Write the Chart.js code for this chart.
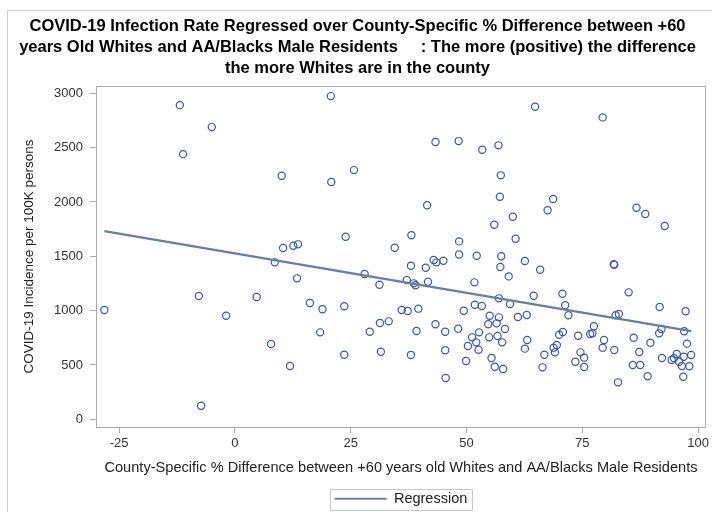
<!DOCTYPE html>
<html>
<head>
<meta charset="utf-8">
<script src="https://cdn.jsdelivr.net/npm/chart.js@4.4.1/dist/chart.umd.min.js"></script>
<style>
  html, body { margin: 0; padding: 0; background: #fff; }
  #wrap { width: 712px; height: 515px; position: relative; }
</style>
</head>
<body>
<div id="wrap"><canvas id="c" width="712" height="515"></canvas></div>
<script>
// County-specific % difference (+60 yrs old Whites vs AA/Blacks, male residents)
const pctDifference = [
  -11.9, -5.0, -11.2, -28.2, -7.8, -1.9, -7.3, 20.7, 43.3, 48.3,
  10.1, 20.8, 25.7, 41.5, 23.9, 38.1, 10.4, 12.6, 13.6, 34.5,
  48.4, 48.4, 8.6, 13.4, 4.7, 7.8, 11.9, 16.2, 18.9, 18.4,
  23.6, 23.6, 28.0, 31.2, 31.3, 33.2, 29.1, 31.5, 38.0, 41.2,
  42.9, 43.5, 45.0, 37.1, 38.6, 39.0, 41.7, 36.0, 37.3, 39.6,
  49.4, 43.3, 39.2, 45.4, 48.2, 38.0, 45.4, 49.9, 45.5, 50.3,
  64.8, 79.4, 53.4, 56.9, 57.4, 57.2, 68.7, 67.5, 60.0, 56.0,
  60.6, 86.7, 88.6, 92.8, 52.2, 57.5, 62.6, 57.3, 59.1, 65.9,
  51.7, 81.8, 81.9, 85.0, 64.5, 70.7, 51.8, 53.3, 57.0, 59.4,
  71.3, 72.0, 91.7, 97.3, 82.2, 82.9, 55.0, 57.0, 61.1, 63.0,
  54.7, 56.5, 58.3, 52.7, 51.2, 52.1, 54.9, 56.7, 57.7, 52.6,
  55.4, 56.1, 57.9, 63.1, 62.6, 66.8, 66.4, 70.0, 70.8, 68.8,
  69.5, 69.1, 74.1, 76.7, 77.2, 77.5, 74.6, 75.4, 73.5, 75.4,
  79.7, 79.4, 81.9, 82.7, 86.1, 87.3, 85.9, 87.5, 89.1, 89.7,
  91.6, 92.1, 92.2, 94.3, 94.8, 95.4, 95.9, 96.5, 96.9, 97.6,
  97.0, 98.5, 98.1, 96.8
];
// COVID-19 incidence per 100K persons, same county order
const incidence = [
  2891, 2689, 2440, 1005, 1134, 953, 125, 2974, 2551, 2560,
  2241, 2183, 2293, 1969, 1680, 1693, 1576, 1597, 1610, 1579,
  1637, 1516, 1444, 1297, 1125, 693, 490, 1070, 1012, 800,
  1040, 594, 1337, 1238, 886, 901, 806, 622, 1413, 1395,
  1466, 1444, 1459, 1281, 1251, 1233, 1266, 1006, 996, 1018,
  999, 874, 812, 806, 834, 592, 635, 536, 380, 675,
  2876, 2778, 2480, 2521, 2245, 2048, 2027, 1923, 1864, 1790,
  1662, 1947, 1889, 1778, 1505, 1500, 1456, 1401, 1315, 1376,
  1260, 1426, 1421, 1168, 1137, 1155, 1054, 1042, 1113, 1061,
  1049, 957, 1033, 994, 957, 969, 953, 938, 941, 959,
  874, 883, 831, 800, 754, 708, 754, 766, 708, 640,
  564, 484, 463, 730, 650, 594, 478, 778, 803, 659,
  684, 616, 769, 785, 791, 856, 616, 567, 530, 481,
  730, 659, 637, 340, 751, 619, 500, 500, 396, 705,
  791, 831, 564, 546, 561, 601, 530, 490, 576, 696,
  810, 592, 488, 392
];
// Fitted regression line end points
const fitX = [-28.2, 98.5];
const fitY = [1732, 812];

const xTicks = [-25, 0, 25, 50, 75, 100];
const yTicks = [0, 500, 1000, 1500, 2000, 2500, 3000];

const titleLines = [
  'COVID-19 Infection Rate Regressed over County-Specific % Difference between +60',
  'years Old Whites and AA/Blacks Male Residents     : The more (positive) the difference',
  'the more Whites are in the county'
];
const xTitle = 'County-Specific % Difference between +60 years old Whites and AA/Blacks Male Residents';
const yTitle = 'COVID-19 Incidence per 100K persons';

const FONT = "'Liberation Sans', Arial, sans-serif";
const AXIS_GRAY = '#ABABAB';
const PLOT_BOTTOM = 427;

const points = pctDifference.map((x, i) => ({ x: x, y: incidence[i] }));
const fitLine = fitX.map((x, i) => ({ x: x, y: fitY[i] }));

// Outer frame, plot frame (top/right sides) and the legend box
const framePlugin = {
  id: 'frames',
  afterLayout(chart) {
    const lg = chart.legend;
    const ca = chart.chartArea;
    if (lg) {
      lg.left = ca.left;
      lg.right = ca.right;
      lg.width = ca.right - ca.left;
    }
  },
  beforeDraw(chart) {
    const ctx = chart.ctx;
    ctx.save();
    ctx.strokeStyle = '#CFCFCF';
    ctx.lineWidth = 1;
    ctx.beginPath();
    ctx.moveTo(7.5, 512);
    ctx.lineTo(7.5, 10.5);
    ctx.lineTo(712, 10.5);
    ctx.stroke();
    ctx.restore();
  },
  afterDraw(chart) {
    const ctx = chart.ctx;
    const ca = chart.chartArea;
    ctx.save();
    ctx.strokeStyle = AXIS_GRAY;
    ctx.lineWidth = 1;
    ctx.beginPath();
    ctx.moveTo(Math.round(ca.left) + 0.5, Math.round(ca.top) + 0.5);
    ctx.lineTo(Math.round(ca.right) - 0.5, Math.round(ca.top) + 0.5);
    ctx.lineTo(Math.round(ca.right) - 0.5, Math.round(ca.bottom));
    ctx.stroke();
    const hb = chart.legend && chart.legend.legendHitBoxes && chart.legend.legendHitBoxes[0];
    if (hb) {
      ctx.strokeStyle = '#C8C8C8';
      ctx.strokeRect(Math.round(hb.left - 5) + 0.5, Math.round(hb.top - 3) + 0.5,
                     Math.round(hb.width + 9), Math.round(hb.height + 6));
    }
    ctx.restore();
  }
};

new Chart(document.getElementById('c'), {
  data: {
    datasets: [
      {
        type: 'scatter',
        label: 'Incidence',
        data: points,
        pointStyle: 'circle',
        pointRadius: 3.6,
        pointHoverRadius: 3.6,
        borderWidth: 1.2,
        borderColor: '#3656B4',
        backgroundColor: 'rgba(0,0,0,0)',
        order: 2
      },
      {
        type: 'line',
        label: 'Regression',
        data: fitLine,
        borderColor: '#667FA2',
        backgroundColor: '#667FA2',
        borderWidth: 2.2,
        pointRadius: 0,
        fill: false,
        order: 1
      }
    ]
  },
  options: {
    responsive: false,
    animation: false,
    layout: { padding: { left: 8, right: 5, top: 16, bottom: -1 } },
    plugins: {
      tooltip: { enabled: false },
      title: {
        display: true,
        text: titleLines,
        color: '#000',
        font: { family: FONT, size: 16.5, weight: 'bold', lineHeight: 21 / 16.5 },
        padding: { top: 0, bottom: 7 }
      },
      legend: {
        display: true,
        position: 'bottom',
        labels: {
          filter: (item) => item.datasetIndex === 1,
          usePointStyle: true,
          pointStyle: 'line',
          pointStyleWidth: 52,
          padding: 6,
          color: '#222',
          font: { family: FONT, size: 14.5 }
        }
      }
    },
    scales: {
      x: {
        type: 'linear',
        position: 'bottom',
        min: -30,
        max: 101.7,
        afterBuildTicks: (s) => { s.ticks = xTicks.map(v => ({ value: v })); },
        afterFit: (s) => {
          const lg = s.chart.legend;
          const lh = lg ? lg.height : 30;
          s.height = s.chart.height + 1 - lh - PLOT_BOTTOM;
        },
        ticks: {
          color: '#333',
          padding: 3,
          maxRotation: 0,
          autoSkip: false,
          font: { family: FONT, size: 13 },
          callback: (v) => String(v)
        },
        grid: { drawOnChartArea: false, drawTicks: true, tickLength: 6, color: AXIS_GRAY },
        border: { display: true, color: AXIS_GRAY },
        title: {
          display: true,
          text: xTitle,
          color: '#222',
          font: { family: FONT, size: 14.6 },
          padding: { top: 0, bottom: 9 }
        }
      },
      y: {
        type: 'linear',
        position: 'left',
        min: -71,
        max: 3067,
        afterBuildTicks: (s) => { s.ticks = yTicks.map(v => ({ value: v })); },
        afterFit: (s) => { s.width = 88; },
        ticks: {
          color: '#333',
          padding: 7,
          autoSkip: false,
          font: { family: FONT, size: 13 },
          callback: (v) => String(v)
        },
        grid: { drawOnChartArea: false, drawTicks: true, tickLength: 6, color: AXIS_GRAY },
        border: { display: true, color: AXIS_GRAY },
        title: {
          display: true,
          text: yTitle,
          color: '#222',
          font: { family: FONT, size: 13.5 },
          padding: { top: 13, bottom: 0 }
        }
      }
    }
  },
  plugins: [framePlugin]
});
</script>
</body>
</html>
